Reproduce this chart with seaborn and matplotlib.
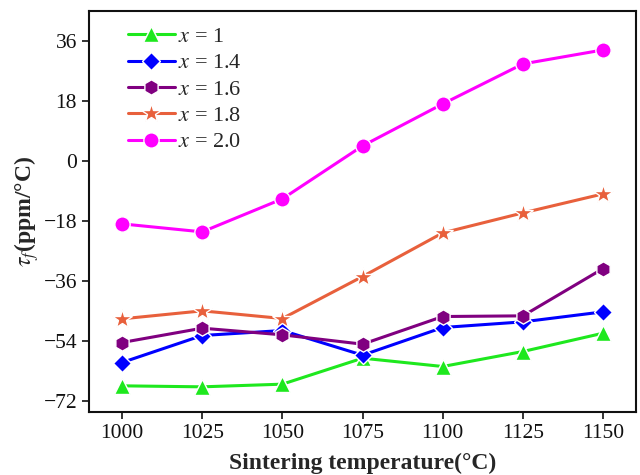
import matplotlib
matplotlib.use("Agg")
import matplotlib.pyplot as plt
import seaborn as sns
import pandas as pd

temps = [1000, 1025, 1050, 1075, 1100, 1125, 1150]
x_1 = [-67.5, -67.8, -67.0, -59.2, -61.7, -57.2, -51.7]
x_14 = [-60.5, -52.4, -50.9, -58.3, -50.0, -48.3, -45.3]
x_16 = [-54.5, -50.2, -52.2, -55.0, -46.7, -46.5, -32.3]
x_18 = [-47.4, -45.0, -47.3, -34.7, -21.6, -15.6, -9.9]
x_20 = [-18.9, -21.3, -11.4, 4.5, 17.1, 29.1, 33.3]
series_labels = ["$x$ = 1", "$x$ = 1.4", "$x$ = 1.6", "$x$ = 1.8", "$x$ = 2.0"]
yticks = [36, 18, 0, -18, -36, -54, -72]

sns.set_theme(style="ticks")
plt.rcParams['font.family'] = ['Liberation Serif', 'DejaVu Serif']
plt.rcParams['mathtext.fontset'] = 'stix'

rows = []
for lab, vals in zip(series_labels, [x_1, x_14, x_16, x_18, x_20]):
    for t, v in zip(temps, vals):
        rows.append({"T": t, "tau": v, "series": lab})
df = pd.DataFrame(rows)

colors = ["#1ee81e", "#0000ff", "#800080", "#e8603c", "#ff00ff"]
markers = ["^", "D", "h", "*", "o"]
msizes = [11, 9, 11, 15, 11]

fig, ax = plt.subplots(figsize=(6.4, 4.75), dpi=100)
sns.lineplot(data=df, x="T", y="tau", hue="series", style="series",
             palette=dict(zip(series_labels, colors)),
             markers=dict(zip(series_labels, markers)),
             dashes=False, linewidth=2.2, markersize=11,
             markeredgecolor="white", markeredgewidth=1.0, ax=ax)
for line, ms in zip(ax.lines, msizes):
    line.set_markersize(ms)

ax.set_xlim(989.7, 1160.3)
ax.set_ylim(-75.3, 45)
ax.set_xticks(temps)
ax.set_yticks(yticks)
ax.tick_params(axis='both', labelsize=15.5, direction='out', length=5, width=1.2,
               top=False, right=False, colors='#111111')
for sp in ax.spines.values():
    sp.set_linewidth(1.5)
    sp.set_color('#111111')
ax.set_xlabel("Sintering temperature(°C)", fontsize=17, fontweight='bold', labelpad=7)
ax.set_ylabel(r"$\tau_f$(ppm/°C)", fontsize=17, fontweight='bold', labelpad=2)

handles, labels = ax.get_legend_handles_labels()
for h, ms in zip(handles, msizes):
    h.set_markersize(ms)
leg = ax.legend(handles, labels, loc='upper left', frameon=False, fontsize=16,
                handlelength=2.1, handletextpad=0.15, labelspacing=0.26,
                borderaxespad=0.3, bbox_to_anchor=(0.043, 1.0))

fig.subplots_adjust(left=0.139, right=0.994, top=0.977, bottom=0.133)
fig.savefig("out.png", dpi=100)
